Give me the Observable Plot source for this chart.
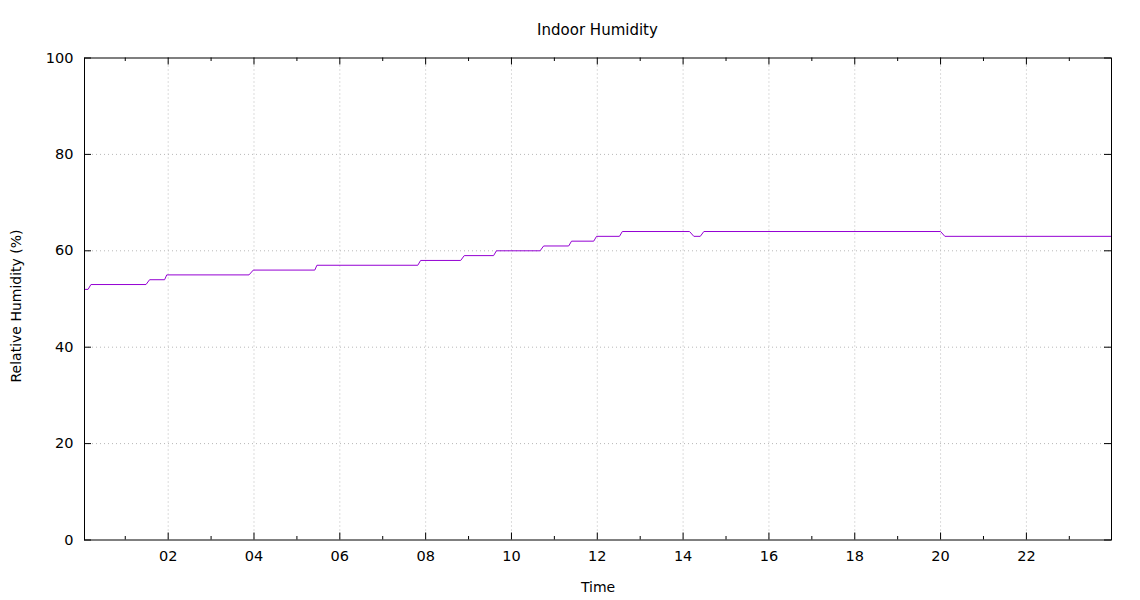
<!DOCTYPE html>
<html>
<head>
<meta charset="utf-8">
<script src="https://cdn.jsdelivr.net/npm/d3@7"></script>
<script src="https://cdn.jsdelivr.net/npm/@observablehq/plot@0.6"></script>
<style>
  body { margin: 0; background: #fff; font-family: "DejaVu Sans", sans-serif; }
  #title { margin-left: 84px; width: 1027px; height: 40px; box-sizing: border-box; padding-top: 23px;
           line-height: 15px; font-size: 15px; text-align: center; color: #000; }
  #chart svg { display: block; }
</style>
</head>
<body>
<div id="title"></div>
<div id="chart"></div>
<script>
// ---- data ----
const chartTitle = "Indoor Humidity";
const xLabel = "Time";
const yLabel = "Relative Humidity (%)";

const times = [
  "00:03", "00:08", "00:12", "01:29", "01:34", "01:55", "01:58", "03:53",
  "03:59", "05:25", "05:28", "07:49", "07:53", "08:49", "08:54", "09:35",
  "09:39", "10:40", "10:45", "11:20", "11:24", "11:55", "11:59", "12:31",
  "12:35", "14:09", "14:15", "14:24", "14:29", "20:00", "20:06", "23:59"
];
const humidity = [
  52, 52, 53, 53, 54, 54, 55, 55,
  56, 56, 57, 57, 58, 58, 59, 59,
  60, 60, 61, 61, 62, 62, 63, 63,
  64, 64, 63, 63, 64, 64, 63, 63
];
const xTickLabels = ["02", "04", "06", "08", "10", "12", "14", "16", "18", "20", "22"];
const xMinorTickLabels = ["01", "03", "05", "07", "09", "11", "13", "15", "17", "19", "21", "23"];
const yTicks = [0, 20, 40, 60, 80, 100];

// ---- build ----
document.getElementById("title").textContent = chartTitle;
const toHours = s => { const [h, m] = s.split(":").map(Number); return h + m / 60; };
const data = times.map((t, i) => ({ hour: toHours(t), rh: humidity[i] }));
const xMajor = xTickLabels.map(Number);
const xMinor = xMinorTickLabels.map(Number);
const yGrid = yTicks.filter(v => v > 0 && v < 100);

const W = 1140, H = 560, mT = 17.5, mB = 60.5, mL = 84, mR = 29;
const ph = H - mT - mB, pw = W - mL - mR;
const major = 7, minor = 3.5;
const gridStyle = { stroke: "#b8b8b8", strokeWidth: 1, strokeDasharray: "1,3" };

const chart = Plot.plot({
  width: W, height: H,
  marginTop: mT, marginBottom: mB, marginLeft: mL, marginRight: mR,
  style: { fontFamily: "DejaVu Sans, sans-serif", fontSize: "14.5px", color: "#000", background: "#fff" },
  x: { domain: [data[0].hour, data[data.length - 1].hour] },
  y: { domain: [0, 100] },
  marks: [
    Plot.ruleX(xMajor, gridStyle),
    Plot.ruleY(yGrid, gridStyle),
    Plot.line(data, { x: "hour", y: "rh", stroke: "#9400d3", strokeWidth: 1 }),
    // inward ticks (bottom, top, left, right)
    Plot.tickX(xMajor, { insetTop: ph - major, stroke: "#000" }),
    Plot.tickX(xMinor, { insetTop: ph - minor, stroke: "#000" }),
    Plot.tickX(xMajor, { insetBottom: ph - major, stroke: "#000" }),
    Plot.tickX(xMinor, { insetBottom: ph - minor, stroke: "#000" }),
    Plot.tickY(yTicks, { insetRight: pw - major, stroke: "#000" }),
    Plot.tickY(yTicks, { insetLeft: pw - major, stroke: "#000" }),
    Plot.frame({ stroke: "#000" }),
    Plot.axisX(xMajor, { tickSize: 0, tickPadding: 10.5, tickFormat: d => String(d).padStart(2, "0"), label: null }),
    Plot.axisY(yTicks, { tickSize: 0, tickPadding: 11, label: null }),
    Plot.text([yLabel], { frameAnchor: "left", textAnchor: "middle", rotate: -90, dx: -68, dy: 7, fontSize: 14, fill: "#000" }),
    Plot.text([xLabel], { frameAnchor: "bottom", dy: 51.5, fontSize: 14, fill: "#000" })
  ]
});
document.getElementById("chart").appendChild(chart);
</script>
</body>
</html>
